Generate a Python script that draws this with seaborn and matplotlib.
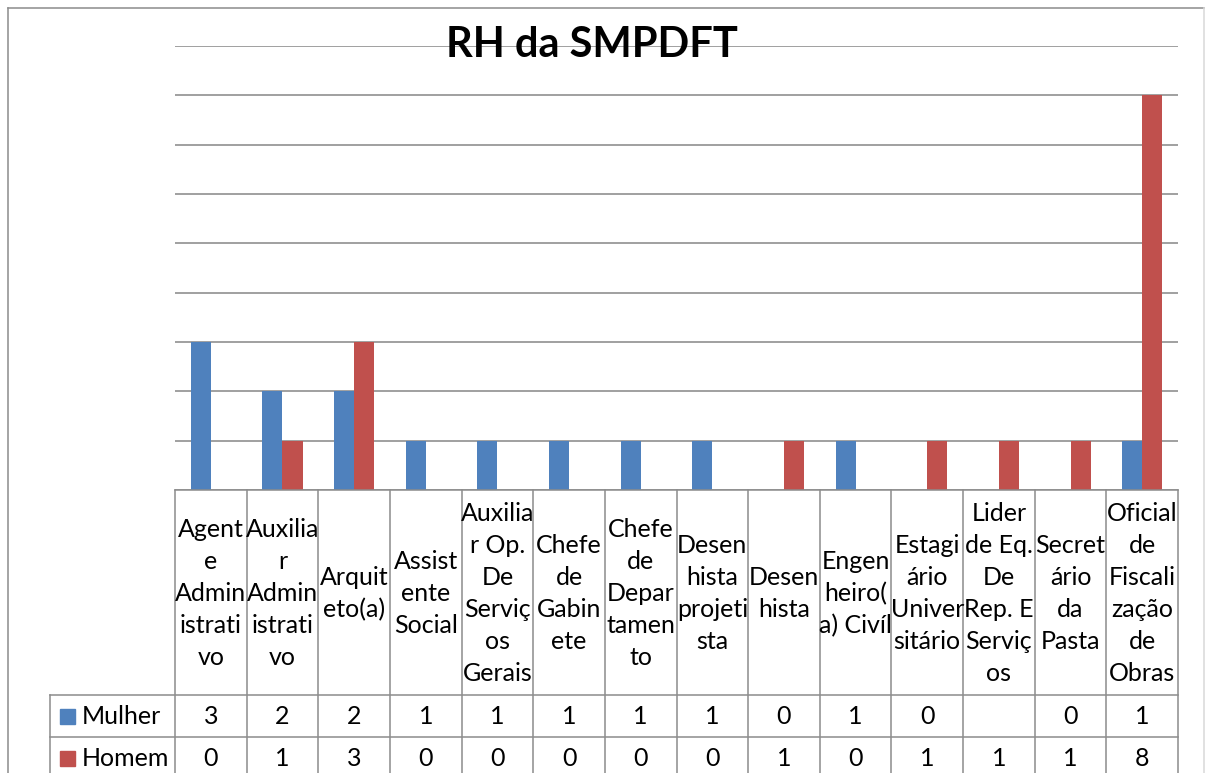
import numpy as np
import pandas as pd
import matplotlib
matplotlib.use("Agg")
import matplotlib.pyplot as plt
import seaborn as sns

# ---------------- data ----------------
categories = [
    "Agente Administrativo", "Auxiliar Administrativo", "Arquiteto(a)",
    "Assistente Social", "Auxiliar Op. De Serviços Gerais", "Chefe de Gabinete",
    "Chefe de Departamento", "Desenhista projetista", "Desenhista",
    "Engenheiro(a) Civíl", "Estagiário Universitário",
    "Lider de Eq. De Rep. E Serviços", "Secretário da Pasta",
    "Oficial de Fiscalização de Obras",
]
category_labels = [
    "Agent\ne\nAdmin\nistrati\nvo", "Auxilia\nr\nAdmin\nistrati\nvo", "Arquit\neto(a)",
    "Assist\nente\nSocial", "Auxilia\nr Op.\nDe\nServiç\nos\nGerais", "Chefe\nde\nGabin\nete",
    "Chefe\nde\nDepar\ntamen\nto", "Desen\nhista\nprojeti\nsta", "Desen\nhista",
    "Engen\nheiro(\na) Civíl", "Estagi\nário\nUniver\nsitário",
    "Lider\nde Eq.\nDe\nRep. E\nServiç\nos", "Secret\nário\nda\nPasta",
    "Oficial\nde\nFiscali\nzação\nde\nObras",
]
mulher = [3, 2, 2, 1, 1, 1, 1, 1, 0, 1, 0, np.nan, 0, 1]
homem = [0, 1, 3, 0, 0, 0, 0, 0, 1, 0, 1, 1, 1, 8]
series_names = ["Mulher", "Homem"]
title = "RH da SMPDFT"

colors = {"Mulher": "#4F81BD", "Homem": "#C0504D"}
grid_color = "#868686"

df = pd.DataFrame({
    "cargo": categories * 2,
    "sexo": ["Mulher"] * len(categories) + ["Homem"] * len(categories),
    "n": mulher + homem,
})

# ---------------- figure ----------------
W, H = 1205, 773
fig = plt.figure(figsize=(W / 100, H / 100), dpi=100)
fig.patch.set_facecolor("white")

L, R, T, B = 175, 1178, 46, 490  # plot area in pixels
ax = fig.add_axes([L / W, (H - B) / H, (R - L) / W, (B - T) / H])
sns.barplot(data=df, x="cargo", y="n", hue="sexo", hue_order=series_names,
            order=categories, palette=colors, width=0.56, linewidth=0,
            saturation=1, legend=False, ax=ax, zorder=3)
ax.set_xlim(-0.5, len(categories) - 0.5)
ax.set_ylim(0, 9)
ax.set_yticks(range(0, 10))
ax.yaxis.grid(True, color=grid_color, linewidth=1.1, zorder=0)
ax.set_axisbelow(True)
ax.tick_params(left=False, bottom=False, labelleft=False, labelbottom=False)
ax.set_xlabel("")
ax.set_ylabel("")
for s in ax.spines.values():
    s.set_visible(False)
ax.set_facecolor("none")

# ---------------- overlay (pixel coords) ----------------
ov = fig.add_axes([0, 0, 1, 1], zorder=5)
ov.set_xlim(0, W)
ov.set_ylim(H, 0)
ov.axis("off")
ov.patch.set_visible(False)

font = ["Lato", "DejaVu Sans"]
lc = "#8c8c8c"
lw = 1.1
fs = 18

# outer chart border
ov.plot([8, 8], [8, H + 5], color=lc, lw=lw)
ov.plot([8, 1204], [8, 8], color=lc, lw=lw)
ov.plot([1204, 1204], [8, H + 5], color="#d9d9d9", lw=lw)

ov.text(592, 45, title, ha="center", va="center", fontsize=30,
        fontweight="bold", family=font, color="black")

# table
n = len(categories)
cw = (R - L) / n
row1, row2 = 695, 737
bottom = H + 5
legend_left = 50
for i in range(n + 1):
    x = L + i * cw
    ov.plot([x, x], [B, bottom], color=lc, lw=lw)
ov.plot([L, R], [B, B], color=lc, lw=lw)
ov.plot([legend_left, R], [row1, row1], color=lc, lw=lw)
ov.plot([legend_left, R], [row2, row2], color=lc, lw=lw)
ov.plot([legend_left, legend_left], [row1, bottom], color=lc, lw=lw)

for i, lab in enumerate(category_labels):
    ov.text(L + (i + 0.5) * cw, (B + row1) / 2 + 1, lab, ha="center", va="center",
            fontsize=fs, family=font, linespacing=1.47, color="black")

rows = [(series_names[0], mulher, (row1 + row2) / 2),
        (series_names[1], homem, (row2 + 779) / 2)]
for name, vals, yc in rows:
    ov.add_patch(plt.Rectangle((60, yc - 7.5), 15, 15, color=colors[name]))
    ov.text(82, yc, name, ha="left", va="center", fontsize=fs, family=font)
    for i, v in enumerate(vals):
        if not np.isnan(v):
            ov.text(L + (i + 0.5) * cw, yc, f"{int(v)}", ha="center", va="center",
                    fontsize=fs, family=font)

fig.savefig("out.png", dpi=100)
